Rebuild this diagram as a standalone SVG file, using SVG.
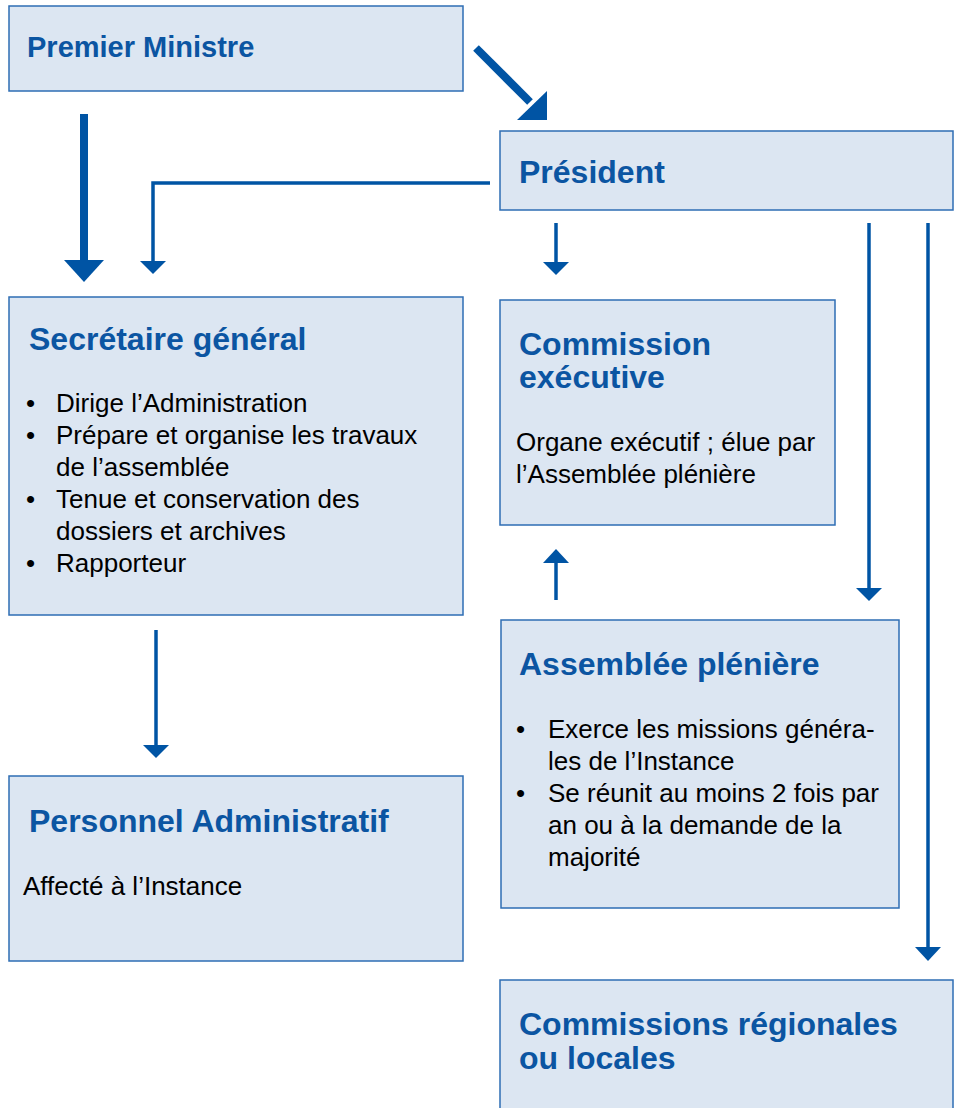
<svg xmlns="http://www.w3.org/2000/svg" width="962" height="1108" viewBox="0 0 962 1108">
<style>
.box{fill:#dce6f2;stroke:#2e6db4;stroke-width:1.5}
.t{font-family:"Liberation Sans",Arial,sans-serif;font-weight:bold;font-size:32px;fill:#0b55a2}
.b{font-family:"Liberation Sans",Arial,sans-serif;font-size:26px;fill:#000}
.thick{stroke:#0054a4;stroke-width:8;fill:none}
.thin{stroke:#0054a4;stroke-width:3.5;fill:none}
.head{fill:#0054a4}
</style>
<rect width="962" height="1108" fill="#fff"/>
<g id="connectors">
  <line class="thick" x1="476" y1="48" x2="530" y2="102"/>
  <polygon class="head" points="517,120 547,120 547,91"/>
  <line class="thick" x1="84" y1="114" x2="84" y2="262"/>
  <polygon class="head" points="64,260 104,260 84,282"/>
  <polyline class="thin" points="490,183 153,183 153,262"/>
  <polygon class="head" points="140,261 166,261 153,274"/>
  <line class="thin" x1="556" y1="223" x2="556" y2="263"/>
  <polygon class="head" points="543,262 569,262 556,275"/>
  <line class="thin" x1="869" y1="223" x2="869" y2="589"/>
  <polygon class="head" points="856,588 882,588 869,601"/>
  <line class="thin" x1="928" y1="223" x2="928" y2="948"/>
  <polygon class="head" points="915,947 941,947 928,961"/>
  <line class="thin" x1="556" y1="600" x2="556" y2="562"/>
  <polygon class="head" points="543,563 569,563 556,549"/>
  <line class="thin" x1="156" y1="630" x2="156" y2="746"/>
  <polygon class="head" points="143,745 169,745 156,758"/>
</g>
<g id="premier-ministre">
  <rect class="box" x="9" y="6" width="454" height="85"/>
  <text class="t" x="27" y="57" style="font-size:29px">Premier Ministre</text>
</g>
<g id="president">
  <rect class="box" x="500" y="131" width="453" height="79"/>
  <text class="t" x="519" y="183">Président</text>
</g>
<g id="secretaire-general">
  <rect class="box" x="9" y="297" width="454" height="318"/>
  <text class="t" x="29" y="350">Secrétaire général</text>
  <text class="b" x="26" y="412">•</text>
  <text class="b" x="56" y="412">Dirige l’Administration</text>
  <text class="b" x="26" y="444">•</text>
  <text class="b" x="56" y="444">Prépare et organise les travaux</text>
  <text class="b" x="56" y="476">de l’assemblée</text>
  <text class="b" x="26" y="508">•</text>
  <text class="b" x="56" y="508">Tenue et conservation des</text>
  <text class="b" x="56" y="540">dossiers et archives</text>
  <text class="b" x="26" y="572">•</text>
  <text class="b" x="56" y="572">Rapporteur</text>
</g>
<g id="commission-executive">
  <rect class="box" x="500" y="300" width="335" height="225"/>
  <text class="t" x="519" y="355">Commission</text>
  <text class="t" x="519" y="388">exécutive</text>
  <text class="b" x="516" y="451">Organe exécutif ; élue par</text>
  <text class="b" x="516" y="483">l’Assemblée plénière</text>
</g>
<g id="assemblee-pleniere">
  <rect class="box" x="501" y="620" width="398" height="288"/>
  <text class="t" x="519" y="675">Assemblée plénière</text>
  <text class="b" x="516" y="738">•</text>
  <text class="b" x="548" y="738">Exerce les missions généra-</text>
  <text class="b" x="548" y="770">les de l’Instance</text>
  <text class="b" x="516" y="802">•</text>
  <text class="b" x="548" y="802">Se réunit au moins 2 fois par</text>
  <text class="b" x="548" y="834">an ou à la demande de la</text>
  <text class="b" x="548" y="866">majorité</text>
</g>
<g id="personnel-administratif">
  <rect class="box" x="9" y="776" width="454" height="185"/>
  <text class="t" x="29" y="832">Personnel Administratif</text>
  <text class="b" x="23" y="895">Affecté à l’Instance</text>
</g>
<g id="commissions-regionales">
  <rect class="box" x="500" y="980" width="453" height="140"/>
  <text class="t" x="519" y="1035">Commissions régionales</text>
  <text class="t" x="519" y="1069">ou locales</text>
</g>
</svg>
